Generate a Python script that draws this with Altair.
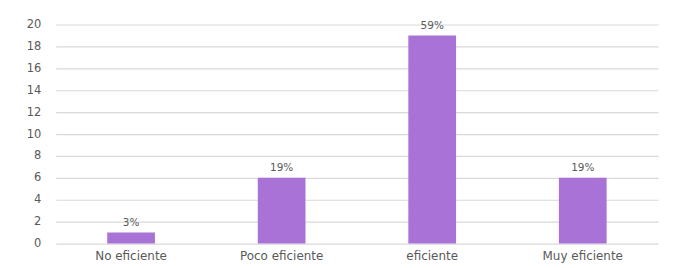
import altair as alt
import pandas as pd

categories = ["No eficiente", "Poco eficiente", "eficiente", "Muy eficiente"]
counts = [1, 6, 19, 6]
pct_labels = ["3%", "19%", "59%", "19%"]
y_ticks = [0, 2, 4, 6, 8, 10, 12, 14, 16, 18, 20]
heading_text = "artículo de investigación."

df = pd.DataFrame({"cat": categories, "n": counts, "pct": pct_labels})

x_enc = alt.X("cat:N", sort=categories, title=None,
              scale=alt.Scale(paddingInner=0.683, paddingOuter=0.3415),
              axis=alt.Axis(labelAngle=0, domain=False, ticks=False, grid=False,
                            labelFont="DejaVu Sans", labelFontSize=12,
                            labelColor="#595959", labelPadding=7))
y_enc = alt.Y("n:Q", title=None,
              scale=alt.Scale(domain=[0, 20], nice=False),
              axis=alt.Axis(values=y_ticks, domain=False, ticks=False,
                            grid=True, gridColor="#d9d9d9", gridWidth=1.2,
                            labelOverlap=False,
                            labelFont="DejaVu Sans", labelFontSize=11.5,
                            labelColor="#595959", labelPadding=15))

base = alt.Chart(df)

bars = base.mark_bar(color="#a972d6").encode(x=x_enc, y=y_enc)

labels = base.mark_text(baseline="bottom", dy=-5, font="DejaVu Sans", fontSize=10.5,
                        color="#595959").encode(x=x_enc, y=y_enc, text="pct:N")

chart = alt.layer(bars, labels).properties(
    width=605, height=220,
    autosize=alt.AutoSizeParams(type="none"),
    padding={"left": 48, "top": 16, "right": 10, "bottom": 30},
    background="white",
    title=alt.TitleParams(text=heading_text, font="Liberation Serif", fontSize=24,
                          fontWeight="normal", color="#000000", anchor="start",
                          frame="group", baseline="alphabetic", offset=10, dx=-56),
).configure_view(strokeOpacity=0, strokeWidth=0)

chart.save("out.html", embed_options={"renderer": "svg", "actions": False})
